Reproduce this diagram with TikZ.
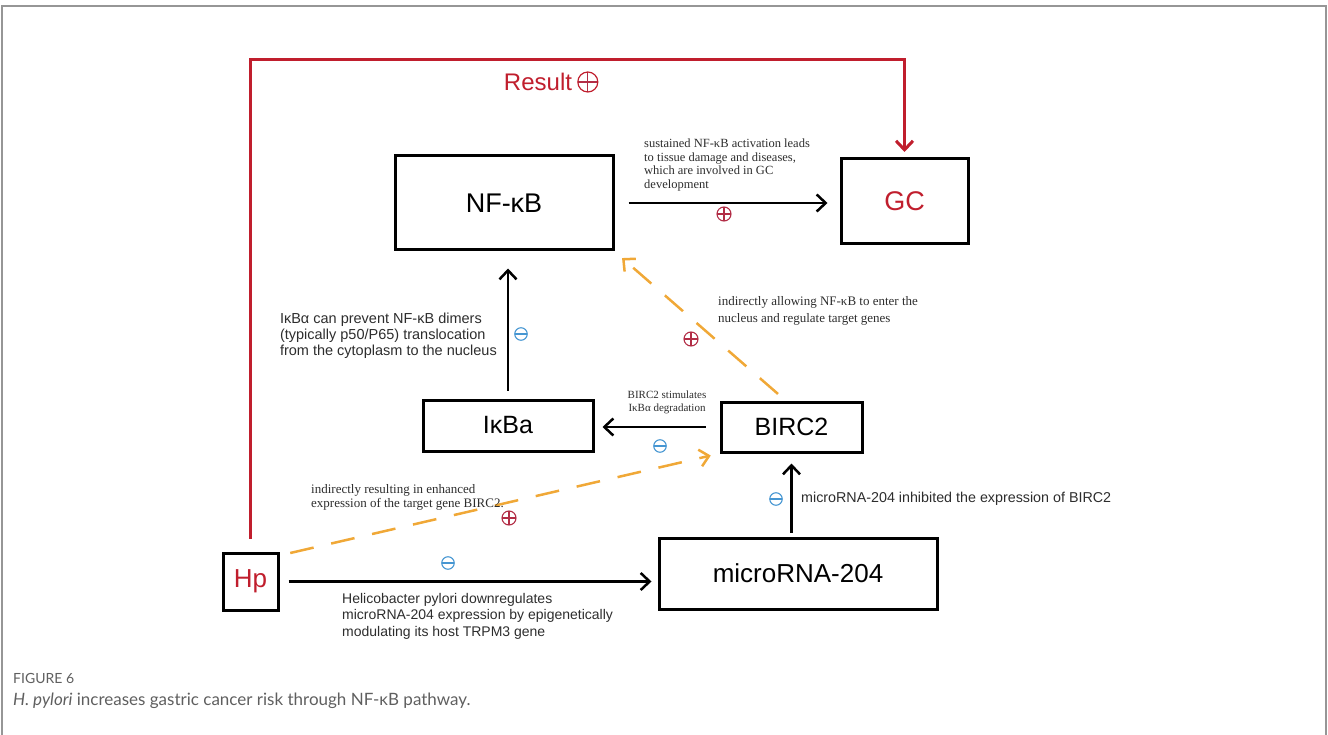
\documentclass[tikz,border=0pt]{standalone}
\usepackage{fontspec}
\setmainfont{Liberation Serif}
\setsansfont{Liberation Sans}
\newfontfamily\capfont{Lato}
\usetikzlibrary{arrows.meta, positioning, calc}

\definecolor{resred}{RGB}{192,30,45}
\definecolor{plusred}{RGB}{178,45,70}
\definecolor{minblue}{RGB}{70,150,210}
\definecolor{dashorange}{RGB}{240,168,55}
\definecolor{framegray}{RGB}{150,150,150}
\definecolor{notegray}{RGB}{45,45,45}
\definecolor{capgray}{RGB}{95,95,95}

\newcommand\fsz[2]{\fontsize{#1}{#2}\selectfont}

\tikzset{
  box/.style={draw, line width=3pt, inner sep=0pt, font=\sffamily},
  arr/.style={line width=2.5pt, -{Straight Barb[length=9pt, width=17pt]}},
  dasharr/.style={arr, dashorange, dash pattern=on 24pt off 18pt},
  note/.style={font=\rmfamily\fsz{12.5}{13.5}, text=notegray, inner sep=0pt, align=left},
  snote/.style={font=\sffamily\fsz{14}{16.5}, text=notegray, inner sep=0pt, align=left},
  signbase/.style={circle, draw, inner sep=0pt, line width=1.1pt},
  plussign/.style={signbase, plusred, minimum size=14pt,
    path picture={\draw[plusred, line width=1.1pt]
      (path picture bounding box.west) -- (path picture bounding box.east)
      (path picture bounding box.north) -- (path picture bounding box.south);}},
  minussign/.style={signbase, minblue, minimum size=12.5pt,
    path picture={\draw[minblue, line width=1.1pt]
      (path picture bounding box.west) -- (path picture bounding box.east);}},
}

\begin{document}
\begin{tikzpicture}[x=1pt, y=-1pt]
    % Page and frame
    \useasboundingbox (0,0) rectangle (1328,735);
    \draw[framegray, line width=2pt] (2,735) -- (2,6) -- (1326,6) -- (1326,735);

    % Boxes
    \node[box, minimum width=218pt, minimum height=94pt, font=\sffamily\fsz{27}{27}] (NFkB) at (504,203) {NF-κB};
    \node[box, minimum width=127pt, minimum height=85pt, font=\sffamily\fsz{27}{27}, text=resred] (GC) at (904.5,201) {GC};
    \node[box, minimum width=170pt, minimum height=51pt, font=\sffamily\fsz{25}{25}] (IkBa) at (508,425.5) {IκBa};
    \node[box, minimum width=141pt, minimum height=50pt, font=\sffamily\fsz{25}{25}] (BIRC2) at (791.5,427) {BIRC2};
    \node[box, minimum width=278pt, minimum height=71pt, font=\sffamily\fsz{26}{26}] (miR) at (798,573.5) {microRNA-204};
    \node[box, minimum width=55pt, minimum height=57pt, font=\sffamily\fsz{26}{26}, text=resred] (Hp) at (250.5,581.5) {Hp};

    % Result line from Hp to GC
    \coordinate (topL) at (Hp.north |- 0,60);
    \coordinate (topR) at (GC.north |- 0,60);
    \draw[arr, resred, line width=3pt, shorten <=13pt, shorten >=5pt] (Hp.north) -- (topL) -- (topR) -- (GC.north);
    \node[text=resred, font=\sffamily\fsz{24}{24}, inner sep=0pt] (result) at (538,82) {Result};
    \node[plussign, resred, minimum size=20pt, line width=1.2pt, right=5pt of result] (resultSign) {};

    % NF-kB to GC
    \draw[arr, shorten <=14pt, shorten >=12pt] (NFkB.east) -- (NFkB.east -| GC.west);
    \node[note, anchor=north west] (lblGC) at (644,139) {sustained NF-κB activation leads\\to tissue damage and diseases,\\which are involved in GC\\development};
    \node[plussign] (posGC) at (724,214) {};

    % IkBa to NF-kB
    \draw[arr, shorten <=8pt, shorten >=17pt] (IkBa.north) -- (IkBa.north |- NFkB.south);
    \node[snote, font=\sffamily\fsz{14.5}{16}, anchor=north east] (lblIkB) at (497,313) {IκBα can prevent NF-κB dimers\\(typically p50/P65) translocation\\from the cytoplasm to the nucleus};
    \node[minussign] (negIkB) at (521,334) {};

    % BIRC2 to NF-kB (dashed)
    \draw[dasharr, shorten <=10pt, shorten >=10pt] ([xshift=-6pt]BIRC2.north) -- (NFkB.south east);
    \node[plussign] (posNuc) at (691,339) {};
    \node[note, font=\rmfamily\fsz{13}{17}, anchor=north west] (lblNuc) at (718,296) {indirectly allowing NF-κB to enter the\\nucleus and regulate target genes};

    % BIRC2 to IkBa
    \draw[arr, shorten <=14pt, shorten >=8pt] (BIRC2.west) -- (BIRC2.west -| IkBa.east);
    \node[note, font=\rmfamily\fsz{11}{13}, align=center] (lblDeg) at (667,402.5) {BIRC2 stimulates\\IκBα degradation};
    \node[minussign] (negDeg) at (660,446) {};

    % Hp to BIRC2 (dashed)
    \coordinate (hpOut) at ($(Hp.north east)+(0,4)$);
    \draw[dasharr, shorten <=11pt, shorten >=9pt] (hpOut) -- (BIRC2.south west);
    \node[note, font=\rmfamily\fsz{13}{14.5}, anchor=north west] (lblBIRC) at (311,484) {indirectly resulting in enhanced\\expression of the target gene BIRC2.};
    \node[plussign] (posBIRC) at (509,518) {};

    % microRNA-204 to BIRC2
    \draw[arr, shorten <=4pt, shorten >=10pt] (miR.north -| BIRC2) -- (BIRC2.south);
    \node[minussign] (negMiR) at (776,499) {};
    \node[snote, font=\sffamily\fsz{14.3}{16}, anchor=west] (lblMiR) at (801,499) {microRNA-204 inhibited the expression of BIRC2};

    % Hp to microRNA-204
    \draw[arr, shorten <=9pt, shorten >=6pt] (Hp.east) -- (Hp.east -| miR.west);
    \node[minussign] (negHp) at (448,563) {};
    \node[snote, anchor=north west] (lblHp) at (342,593) {Helicobacter pylori downregulates\\microRNA-204 expression by epigenetically\\modulating its host TRPM3 gene};

    % Caption
    \node[anchor=west, inner sep=0pt, text=capgray, font=\capfont\fsz{14}{14}] (figno) at (13,678) {FIGURE 6};
    \node[anchor=west, inner sep=0pt, text=capgray, font=\capfont\fsz{17}{17}] (caption) at (13,701) {\textit{H. pylori} increases gastric cancer risk through NF-κB pathway.};
\end{tikzpicture}
\end{document}
